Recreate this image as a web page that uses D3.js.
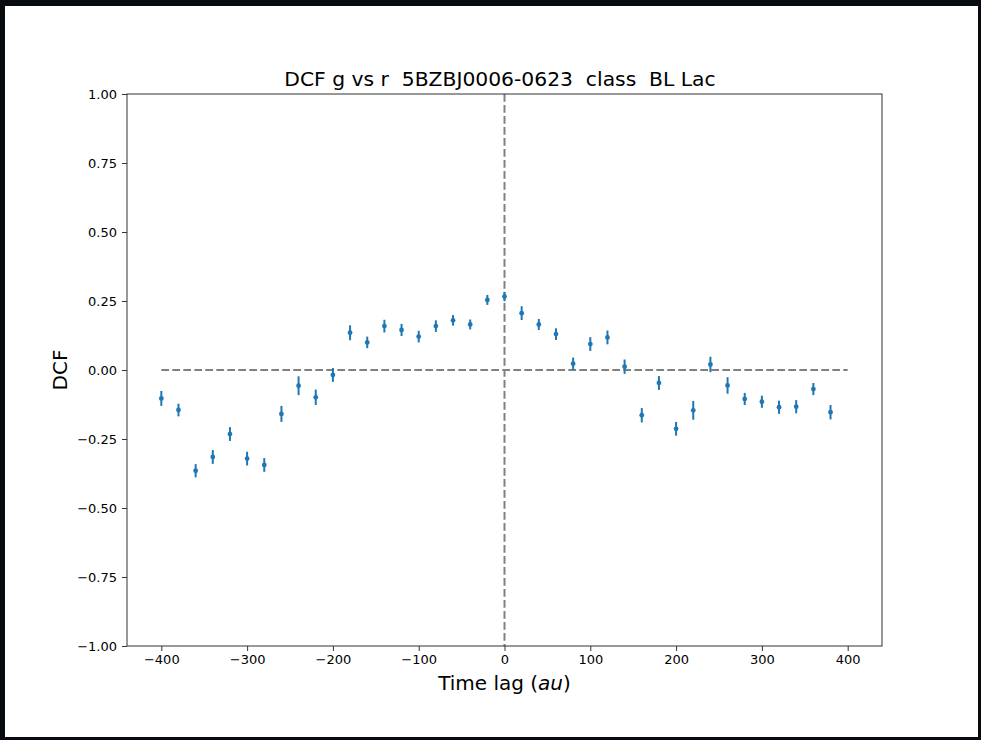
<!DOCTYPE html>
<html lang="en">
<head>
<meta charset="utf-8">
<title>DCF g vs r</title>
<script src="https://d3js.org/d3.v7.min.js"></script>
<style>
  body { margin: 0; background: #070b10; }
  svg { display: block; }
  text { font-family: "DejaVu Sans", sans-serif; fill: #000; }
  .tick text { font-size: 13px; }
</style>
</head>
<body>
<svg id="chart" width="981" height="740"></svg>
<script>
// time lags and DCF values
var lags = [-400, -380, -360, -340, -320, -300, -280, -260, -240, -220, -200, -180, -160, -140,
            -120, -100, -80, -60, -40, -20, 0, 20, 40, 60, 80, 100, 120, 140,
            160, 180, 200, 220, 240, 260, 280, 300, 320, 340, 360, 380];
var dcf = [-0.103, -0.145, -0.365, -0.315, -0.232, -0.321, -0.344, -0.159, -0.057, -0.099, -0.018, 0.135, 0.100, 0.159,
           0.145, 0.121, 0.159, 0.180, 0.165, 0.254, 0.266, 0.206, 0.165, 0.130, 0.023, 0.094, 0.118, 0.012,
           -0.164, -0.047, -0.213, -0.146, 0.020, -0.056, -0.105, -0.115, -0.135, -0.133, -0.069, -0.153];
var dcfErr = [0.027, 0.023, 0.024, 0.025, 0.025, 0.025, 0.025, 0.029, 0.034, 0.028, 0.025, 0.027, 0.021, 0.023,
              0.022, 0.021, 0.021, 0.019, 0.018, 0.018, 0.017, 0.025, 0.020, 0.021, 0.022, 0.025, 0.025, 0.026,
              0.026, 0.025, 0.025, 0.034, 0.028, 0.030, 0.022, 0.022, 0.024, 0.024, 0.022, 0.026];
var xTicks = [-400, -300, -200, -100, 0, 100, 200, 300, 400];
var yTicks = [-1.00, -0.75, -0.50, -0.25, 0.00, 0.25, 0.50, 0.75, 1.00];

var svg = d3.select("#chart");

// white figure panel
svg.append("rect").attr("x", 5).attr("y", 6).attr("width", 973).attr("height", 731).attr("fill", "#fff");

var pLeft = 127, pRight = 882, pTop = 94, pBottom = 646;
var x = d3.scaleLinear().domain([-440, 440]).range([pLeft, pRight]);
var y = d3.scaleLinear().domain([-1, 1]).range([pBottom, pTop]);

var blue = "#1f77b4", grey = "#808080";

// dashed reference lines
svg.append("line")
  .attr("x1", x(-400)).attr("x2", x(400)).attr("y1", y(0)).attr("y2", y(0))
  .attr("stroke", grey).attr("stroke-width", 2).attr("stroke-dasharray", "7.7,3.3");
svg.append("line")
  .attr("x1", x(0)).attr("x2", x(0)).attr("y1", y(1)).attr("y2", y(-1))
  .attr("stroke", grey).attr("stroke-width", 2).attr("stroke-dasharray", "7.7,3.3");

// error bars + points
var pts = svg.append("g").selectAll("g").data(lags).join("g");
pts.append("line")
  .attr("x1", function(d) { return x(d); }).attr("x2", function(d) { return x(d); })
  .attr("y1", function(d, i) { return y(dcf[i] - dcfErr[i]); })
  .attr("y2", function(d, i) { return y(dcf[i] + dcfErr[i]); })
  .attr("stroke", blue).attr("stroke-width", 2);
pts.append("circle")
  .attr("cx", function(d) { return x(d); })
  .attr("cy", function(d, i) { return y(dcf[i]); })
  .attr("r", 2.4).attr("fill", blue);

// axes
var xAxis = svg.append("g").attr("transform", "translate(0," + pBottom + ")")
  .call(d3.axisBottom(x).tickValues(xTicks).tickSize(5).tickPadding(4)
    .tickFormat(function(d) { return d < 0 ? "\u2212" + Math.abs(d) : d; }));
var yAxis = svg.append("g").attr("transform", "translate(" + pLeft + ",0)")
  .call(d3.axisLeft(y).tickValues(yTicks).tickSize(5).tickPadding(5)
    .tickFormat(function(d) { var s = Math.abs(d).toFixed(2); return d < 0 ? "\u2212" + s : s; }));
[xAxis, yAxis].forEach(function(a) {
  a.select(".domain").remove();
  a.selectAll(".tick line").attr("stroke", "#333");
  a.selectAll(".tick text").attr("fill", "#111");
});

// frame
svg.append("rect").attr("x", pLeft).attr("y", pTop).attr("width", pRight - pLeft).attr("height", pBottom - pTop)
  .attr("fill", "none").attr("stroke", "#333").attr("stroke-width", 1);

// title and labels
svg.append("text").attr("x", 500).attr("y", 86).attr("text-anchor", "middle")
  .attr("font-size", 20.3).text("DCF g vs r\u00a0\u00a05BZBJ0006-0623\u00a0\u00a0class\u00a0\u00a0BL Lac");
var xl = svg.append("text").attr("x", (pLeft + pRight) / 2).attr("y", 690).attr("text-anchor", "middle")
  .attr("font-size", 20);
xl.append("tspan").text("Time lag (");
xl.append("tspan").attr("font-style", "italic").text("au");
xl.append("tspan").text(")");
svg.append("text").attr("transform", "translate(67," + y(0) + ") rotate(-90)")
  .attr("text-anchor", "middle").attr("font-size", 20).text("DCF");
</script>
</body>
</html>
